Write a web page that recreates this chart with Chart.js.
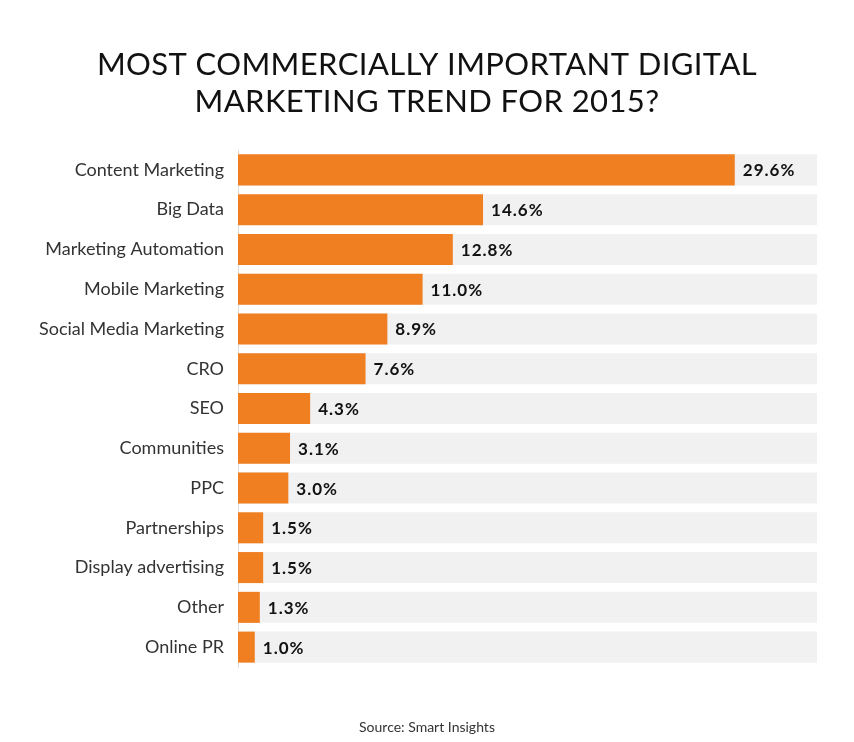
<!DOCTYPE html>
<html>
<head>
<meta charset="utf-8">
<script src="https://cdn.jsdelivr.net/npm/chart.js@4"></script>
<style>
  html, body { margin: 0; padding: 0; background: #fff; }
  #wrap { width: 854px; height: 742px; }
</style>
</head>
<body>
<div id="wrap"><canvas id="trend_chart"></canvas></div>
<script>
// data
var categories = ['Content Marketing', 'Big Data', 'Marketing Automation', 'Mobile Marketing',
    'Social Media Marketing', 'CRO', 'SEO', 'Communities', 'PPC', 'Partnerships',
    'Display advertising', 'Other', 'Online PR'];
var shares = [29.6, 14.6, 12.8, 11.0, 8.9, 7.6, 4.3, 3.1, 3.0, 1.5, 1.5, 1.3, 1.0];
var axisMax = 34.5;
var titleLines = ['MOST COMMERCIALLY IMPORTANT DIGITAL', 'MARKETING TREND FOR 2015?'];
var sourceText = 'Source: Smart Insights';

// grey track behind every bar
var track = categories.map(function() { return axisMax; });

// title + source centred on the whole canvas, value labels after each bar
var textLayer = {
    id: 'textLayer',
    afterDraw: function(chart) {
        var ctx = chart.ctx;
        var mid = chart.width / 2;
        ctx.save();
        ctx.textAlign = 'center';
        ctx.textBaseline = 'middle';
        ctx.fillStyle = '#111';
        ctx.font = '31px Lato';
        ctx.letterSpacing = '0.4px';
        ctx.fillText(titleLines[0], mid, 65);
        ctx.fillText(titleLines[1], mid, 102);

        ctx.letterSpacing = '0px';
        ctx.fillStyle = '#333';
        ctx.font = '14px Lato';
        ctx.fillText(sourceText, mid, 727);
        ctx.restore();
    },
    afterDatasetsDraw: function(chart) {
        var ctx = chart.ctx;
        var meta = chart.getDatasetMeta(0);
        ctx.save();
        ctx.font = 'bold 17px Lato';
        ctx.letterSpacing = '1px';
        ctx.fillStyle = '#111';
        ctx.textBaseline = 'middle';
        ctx.textAlign = 'left';
        for (var i = 0; i < meta.data.length; ++i) {
            var bar = meta.data[i];
            ctx.fillText(shares[i].toFixed(1) + '%', bar.x + 8, bar.y + 1);
        }
        ctx.restore();
    }
};

new Chart(document.getElementById('trend_chart'), {
    type: 'bar',
    data: {
        labels: categories,
        datasets: [{
            data: shares,
            backgroundColor: '#F07F22',
            categoryPercentage: 0.78,
            barPercentage: 1.0,
            grouped: false
        }, {
            data: track,
            backgroundColor: '#F1F1F1',
            categoryPercentage: 0.78,
            barPercentage: 1.0,
            grouped: false
        }]
    },
    options: {
        indexAxis: 'y',
        responsive: true,
        maintainAspectRatio: false,
        animation: false,
        layout: { padding: { left: 0, right: 37, top: 150, bottom: 75 } },
        plugins: {
            legend: { display: false },
            tooltip: { enabled: false }
        },
        scales: {
            x: {
                display: false,
                min: 0,
                max: axisMax
            },
            y: {
                grid: { display: false, drawTicks: false },
                border: { display: true, color: '#DDDDDD', width: 1 },
                ticks: {
                    color: '#333',
                    padding: 14,
                    font: { family: 'Lato', size: 18 }
                },
                afterFit: function(scale) { scale.width = 238; }
            }
        }
    },
    plugins: [textLayer]
});
</script>
</body>
</html>
